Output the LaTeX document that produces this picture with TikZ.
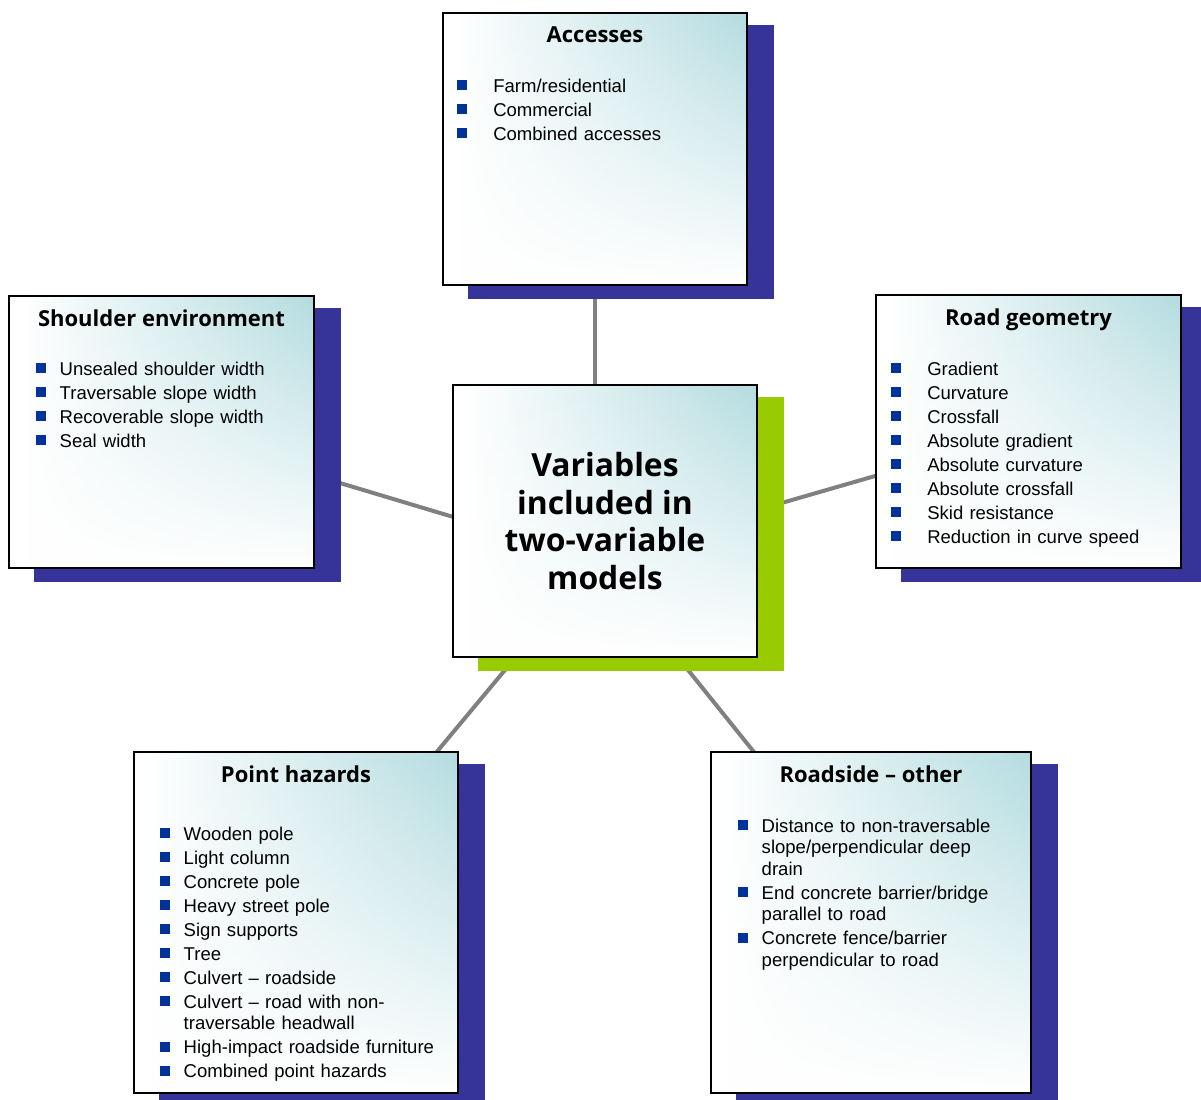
\documentclass[tikz,border=0pt]{standalone}
\usepackage{fontspec}
\setmainfont{Liberation Sans}
\newfontfamily\bodyf{Liberation Sans}
\newfontfamily\ttlfont{Open Sans}
\usetikzlibrary{fadings}
\definecolor{tealc}{RGB}{180,220,224}
\definecolor{navy}{RGB}{54,51,153}
\definecolor{lime}{RGB}{153,204,0}
\definecolor{bul}{RGB}{0,51,153}
\definecolor{conncol}{RGB}{128,128,128}
\pgfdeclarehorizontalshading{tealh}{100bp}{color(0bp)=(white);color(27bp)=(white);color(75bp)=(tealc);color(100bp)=(tealc)}
\tikzfading[name=vfade, top color=transparent!100, bottom color=transparent!0]
\pgfdeclarelayer{lines}
\pgfdeclarelayer{shadows}
\pgfsetlayers{lines,shadows,main}
\newcommand\bodyfont{\bodyf\fontsize{13.9pt}{16.1pt}\selectfont\setlength\parskip{1.9pt}}
\newcommand\ia[1]{\par\hangindent=27pt\hangafter=1\noindent\makebox[27pt][l]{\rule{0pt}{11pt}\textcolor{bul}{\rule[1.5pt]{7.5pt}{7.5pt}}}#1}
\newcommand\ib[1]{\par\hangindent=17.6pt\hangafter=1\noindent\makebox[17.6pt][l]{\rule{0pt}{11pt}\textcolor{bul}{\rule[1.5pt]{7.5pt}{7.5pt}}}#1}
\tikzset{
  panel/.style={draw=black, line width=1.5pt, inner sep=0pt,
    path picture={
      \shade[shading=tealh] (path picture bounding box.south west) rectangle (path picture bounding box.north east);
      \fill[white, path fading=vfade] (path picture bounding box.south west) rectangle (path picture bounding box.north east);
    }},
  ttl/.style={anchor=base, inner sep=0pt, font=\ttlfont\bfseries\fontsize{16.5pt}{19pt}\selectfont},
  lst/.style={anchor=north west, inner sep=0pt, align=left, text width=#1, font=\bodyfont},
  connl/.style={draw=conncol, line width=3pt},
  shad/.style={fill=navy}
}
\begin{document}
\begin{tikzpicture}[x=0.75pt, y=-0.75pt]
\path[use as bounding box] (0,0) rectangle (1201,1099);

% boxes
\node[panel, minimum width=228pt, minimum height=204pt] (acc) at (595,149) {};
\node[panel, minimum width=228.75pt, minimum height=204pt] (sh) at (161.5,432) {};
\node[panel, minimum width=228.75pt, minimum height=204.75pt] (rg) at (1028.5,431.5) {};
\node[panel, minimum width=228pt, minimum height=204pt, align=center,
  font=\ttlfont\bfseries\fontsize{23.9pt}{28.1pt}\selectfont] (ctr) at (605,521)
  {Variables\\included in\\two-variable\\models};
\node[panel, minimum width=243pt, minimum height=255.75pt] (ph) at (296,922.5) {};
\node[panel, minimum width=240pt, minimum height=255.75pt] (rs) at (871,922.5) {};

% shadows
\begin{pgfonlayer}{shadows}
\fill[shad] ([shift={(26,13)}]acc.north west) rectangle ([shift={(26,13)}]acc.south east);
\fill[shad] ([shift={(26,13)}]sh.north west) rectangle ([shift={(26,13)}]sh.south east);
\fill[shad] ([shift={(26,13)}]rg.north west) rectangle ([shift={(26,13)}]rg.south east);
\fill[lime] ([shift={(26,13)}]ctr.north west) rectangle ([shift={(26,13)}]ctr.south east);
\fill[shad] ([shift={(26,13)}]ph.north west) rectangle ([shift={(26,13)}]ph.south east);
\fill[shad] ([shift={(26,13)}]rs.north west) rectangle ([shift={(26,13)}]rs.south east);
\end{pgfonlayer}

% connectors
\begin{pgfonlayer}{lines}
\draw[connl] (acc.center) -- (acc.center |- ctr.center);
\draw[connl] ([shift={(138.5,39)}]sh.center) -- ([shift={(-105,10)}]ctr.center);
\draw[connl] ([shift={(-108.5,31.5)}]rg.center) -- ([shift={(135,-6)}]ctr.center);
\draw[connl] ([shift={(124,-150.5)}]ph.center) -- ([shift={(-85,131)}]ctr.center);
\draw[connl] ([shift={(-101,-150.5)}]rs.center) -- ([shift={(75,139)}]ctr.center);
\end{pgfonlayer}

% titles
\node[ttl] (acct) at ([shift={(0,31)}]acc.north) {Accesses};
\node[ttl] (sht) at ([shift={(0,31)}]sh.north) {Shoulder environment};
\node[ttl] (rgt) at ([shift={(0,31)}]rg.north) {Road geometry};
\node[ttl] (pht) at ([shift={(0,31)}]ph.north) {Point hazards};
\node[ttl] (rst) at ([shift={(0,31)}]rs.north) {Roadside – other};

% lists
\node[lst=213pt] (accl) at ([shift={(15,56)}]acc.north west)
  {\ia{Farm/residential}\ia{Commercial}\ia{Combined accesses}\par};
\node[lst=205pt] (shl) at ([shift={(28,56)}]sh.north west)
  {\ib{Unsealed shoulder width}\ib{Traversable slope width}\ib{Recoverable slope width}\ib{Seal width}\par};
\node[lst=213pt] (rgl) at ([shift={(16,57)}]rg.north west)
  {\ia{Gradient}\ia{Curvature}\ia{Crossfall}\ia{Absolute gradient}\ia{Absolute curvature}\ia{Absolute crossfall}\ia{Skid resistance}\ia{Reduction in curve speed}\par};
\node[lst=218pt] (phl) at ([shift={(27,65)}]ph.north west)
  {\ib{Wooden pole}\ib{Light column}\ib{Concrete pole}\ib{Heavy street pole}\ib{Sign supports}\ib{Tree}\ib{Culvert – roadside}\ib{Culvert – road with non-\newline traversable headwall}\ib{High-impact roadside furniture}\ib{Combined point hazards}\par};
\node[lst=215pt] (rsl) at ([shift={(28,57)}]rs.north west)
  {\ib{Distance to non-traversable\newline slope/perpendicular deep\newline drain}\ib{End concrete barrier/bridge\newline parallel to road}\ib{Concrete fence/barrier\newline perpendicular to road}\par};
\end{tikzpicture}
\end{document}
